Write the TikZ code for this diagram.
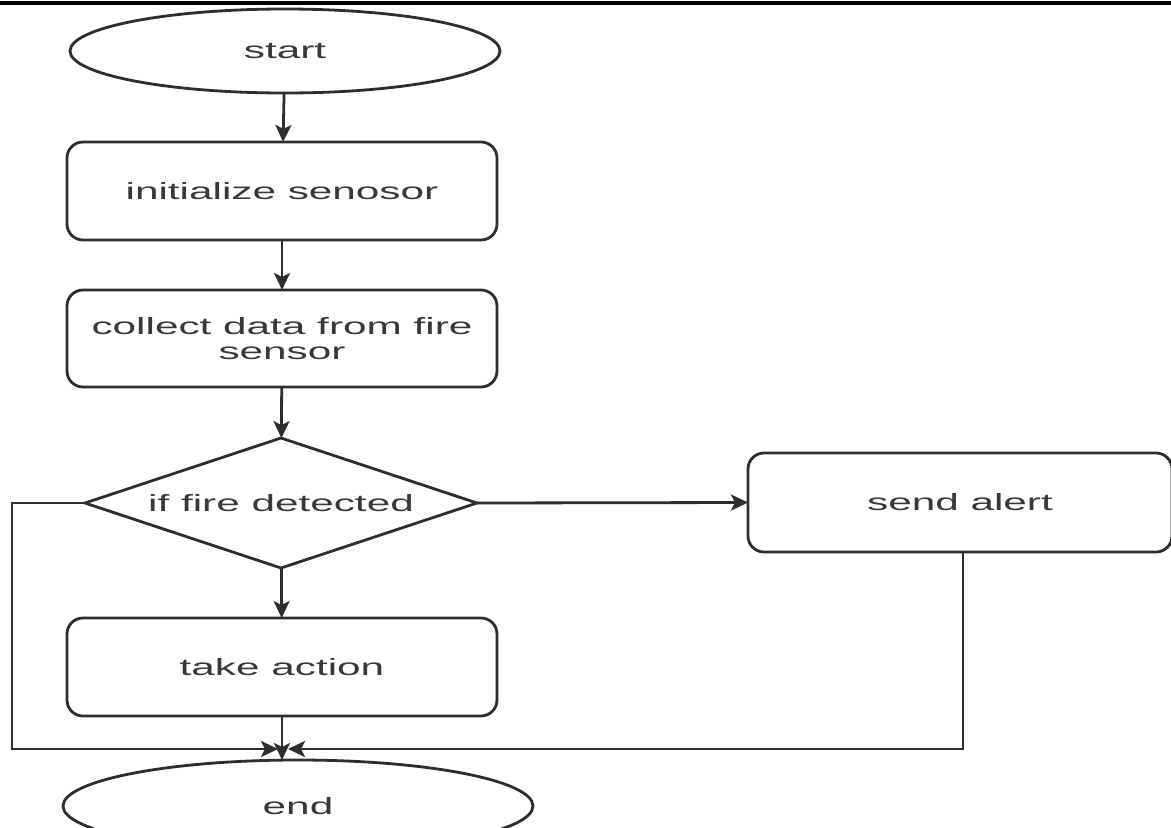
\documentclass[tikz,border=0pt]{standalone}
\usepackage{fontspec}
\setmainfont{Liberation Sans}
\usetikzlibrary{shapes.geometric,arrows.meta}
\newcommand{\stretchtxt}[1]{\scalebox{1.8}[1]{#1}}
\definecolor{ink}{HTML}{2E2E2E}
\definecolor{txt}{HTML}{383838}
\tikzset{
  base/.style={draw=ink, line width=2.8pt, outer sep=0pt, inner sep=0pt,
    text=txt, font=\fontsize{23.5}{25}\selectfont, align=center},
  procbox/.style={base, rectangle, rounded corners=16pt},
  termbox/.style={base, ellipse},
  decbox/.style={base, diamond},
  conn/.style={draw=ink, line width=2.8pt, -{Stealth[length=17pt,width=16pt,inset=4pt]}},
}
\begin{document}
\begin{tikzpicture}[x=1pt,y=-1pt]
\useasboundingbox (0,0) rectangle (1171,828);
\fill[white] (0,0) rectangle (1171,828);
\coordinate (tl) at (0,3);
\coordinate (tr) at (1171,3);
\draw[black, line width=3.5pt] (tl) -- (tr);

\node[termbox, minimum width=430pt, minimum height=84pt] (start) at (285,51) {\stretchtxt{start}};
\node[procbox, minimum width=430pt, minimum height=98pt] (init) at (282,191) {\stretchtxt{initialize senosor}};
\node[procbox, minimum width=430pt, minimum height=97pt] (collect) at (282,338.5) {\stretchtxt{collect data from fire}\\\stretchtxt{sensor}};
\node[decbox, minimum width=392pt, minimum height=130pt] (dec) at (281,503) {};
\node at (dec) [text=txt, font=\fontsize{23.5}{25}\selectfont] (dectext) {\stretchtxt{if fire detected}};
\node[procbox, minimum width=430pt, minimum height=98pt] (act) at (282,667) {\stretchtxt{take action}};
\node[procbox, minimum width=424pt, minimum height=99pt] (alert) at (960,502.5) {\stretchtxt{send alert}};
\node[termbox, minimum width=470pt, minimum height=92pt] (end) at (298,806) {\stretchtxt{end}};

\coordinate (lc) at (12,503);
\coordinate (lb) at (12,749);
\coordinate (mL) at (278,749);
\coordinate (rb) at (963,749);
\coordinate (mR) at (288,749);
\coordinate (ab) at (963,552);

\draw[conn] (start) -- (init);
\draw[conn] (init) -- (collect);
\draw[conn] (collect) -- (dec);
\draw[conn] (dec) -- (act);
\draw[conn] (dec.east) -- (alert.west);
\draw[conn] (dec.west) -- (lc) -- (lb) -- (mL);
\draw[conn] (ab) -- (rb) -- (mR);
\draw[conn] (act.south) -- (act.south |- end.north);
\end{tikzpicture}
\end{document}
